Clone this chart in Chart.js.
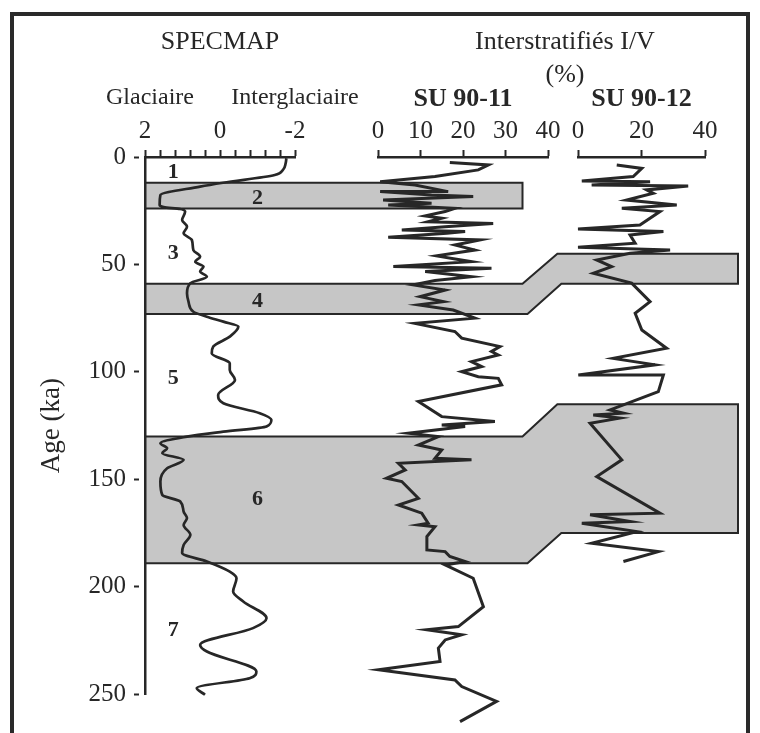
<!DOCTYPE html>
<html lang="fr">
<head>
<meta charset="UTF-8">
<title>SPECMAP - Interstratifiés I/V</title>
<script src="https://cdn.jsdelivr.net/npm/chart.js"></script>
<style>
    html, body { margin: 0; padding: 0; background: #fff; overflow: hidden; }
    .cadre { position: absolute; left: 10px; top: 12px; width: 740px; height: 760px; border: 4px solid #2a2a2a; box-sizing: border-box; }
    #graphe { position: absolute; left: 0; top: 0; }
</style>
</head>
<body>
<div class="cadre"></div>
<canvas id="graphe" width="760" height="733"></canvas>

<script>
    // SPECMAP (delta 18O normalise) : age (ka) / valeur
    const specmapAge = [0.6, 3, 6, 8.4, 12, 13.8, 17.7, 22.3, 23.3, 24.2, 25.4, 29.3, 32.4, 35.5, 38.6, 43.3, 46.4, 48.7, 51, 53.3,
        55.7, 58.7, 63.4, 67.3, 72, 74.3, 76.6, 78.9, 83.6, 88.2, 91.4, 96, 99.1, 103.7, 110.7, 114.6, 119.2, 122.3, 125.4, 127.8,
        130.1, 133.2, 135.5, 137.8, 140.9, 144.8, 151, 157.2, 160.3, 165, 168, 171.2, 175.8, 180.5, 184.3, 188.2, 192.9, 196, 202.2, 206.8,
        214.6, 219.2, 227, 230.1, 239.4, 242.5, 247.1, 250.2];
    const specmapVal = [-1.77, -1.75, -1.68, -1.46, -0.08, 0.53, 1.59, 1.61, 1.5, 1.06, 0.93, 1.01, 0.88, 0.97, 0.75, 0.71, 0.53, 0.66, 0.44, 0.53,
        0.35, 0.79, 0.88, 0.84, 0.71, 0.35, -0.09, -0.49, -0.26, 0.18, 0.22, -0.26, -0.26, -0.4, 0.05, -0.09, -1.06, -1.37, -1.24, -0.09,
        0.88, 1.59, 1.41, 1.54, 0.97, 1.41, 1.59, 1.54, 1.06, 0.97, 0.88, 0.97, 0.79, 0.97, 1.01, 0.35, -0.26, -0.44, -0.35, -0.62,
        -1.24, -0.88, 0.53, 0.35, -0.97, -0.79, 0.62, 0.4];

    // SU 90-11 : age (ka) / interstratifies I/V (%)
    const su11Age = [2.6, 3.7, 6, 9.1, 11.5, 13, 16.1, 16.1, 17.7, 18.4, 20, 21.5, 22.3, 23.9, 25.4, 27.4, 28.5, 30.1, 30.9, 32.4,
        34, 34.7, 35.5, 37.3, 38.6, 40.9, 43.3, 46, 48.7, 51, 51.8, 53.3, 55.7, 57.5, 59.5, 61.9, 65, 67.3, 68.8, 71.2,
        75, 77.4, 81.2, 84.3, 88.2, 90.5, 92.1, 95.2, 97.5, 99.9, 102.2, 103, 106, 113.8, 120.8, 123.1, 124.7, 125.4, 128.5, 130.1,
        134, 136.3, 140.2, 140.9, 142.5, 145.6, 149.5, 151, 158.8, 161.9, 165.7, 170.4, 171.2, 172, 176.6, 182.8, 183.6, 185.9, 188.2, 189.8,
        196, 209.2, 218.5, 220, 222.3, 224.7, 228.5, 234.7, 238.6, 243.3, 246.4, 253.3, 262.7];
    const su11Val = [16.9, 26, 23.6, 13.4, 0.5, 8.7, 16.5, 0.5, 12.6, 22.4, 1.2, 12.6, 2.4, 18.1, 15.8, 11.1, 15, 11.8, 27.1, 15.8,
        5.6, 20.5, 16.2, 2.4, 24, 18.1, 22.8, 13.8, 22, 3.6, 26.7, 11.1, 22, 13.4, 8.3, 15.8, 9.9, 15.4, 9.5, 17.7,
        22.8, 8.7, 18.1, 19.7, 28.7, 26.7, 28.3, 22, 24.4, 19.7, 23.6, 28.3, 29.1, 9.5, 15, 27.5, 15, 20.5, 7.1, 14.2,
        9.5, 15, 13.4, 22, 4.8, 6.4, 2, 5.6, 9.5, 4.8, 10.3, 11.8, 9.5, 13.4, 11.5, 11.5, 15.8, 16.9, 20.5, 15.8,
        22.4, 24.8, 18.9, 11.5, 19.7, 15.8, 14.2, 14.6, 0.1, 18.1, 19.7, 27.9, 19.3];

    // SU 90-12 : age (ka) / interstratifies I/V (%)
    const su12Age = [3.7, 5.3, 9.1, 11.2, 11.5, 13, 13.5, 15.3, 16.9, 20, 22.3, 23.9, 25.4, 31.6, 33.5, 34.7, 36.3, 40.1, 42, 43.3,
        44.8, 47.9, 51, 54.1, 58.7, 67.3, 72.7, 80.5, 89, 93.7, 96.7, 101.4, 101.4, 109.2, 115.3, 117.7, 119.2, 120, 121.5, 123.9,
        140.9, 148.7, 165.7, 166.5, 169.6, 170.4, 174.3, 179.7, 183.6, 188.2];
    const su12Val = [12.2, 20.1, 17.4, 1.2, 22.7, 4.3, 34.7, 21.6, 23.7, 15.3, 31.1, 13.8, 25.8, 19.5, 0, 26.9, 16.4, 18, 0, 29,
        16.4, 5.9, 10.6, 4.8, 16.9, 22.7, 18, 20.1, 27.9, 11.1, 24.3, 0.1, 26.9, 25.3, 14.3, 10.1, 14.3, 4.8, 13.2, 3.8,
        13.8, 5.9, 25.8, 3.8, 16.4, 1.2, 18.5, 4.3, 25.3, 14.3];

    // stades isotopiques : numero, age du libelle, position sur l'axe SPECMAP
    const stadeNoms = ['1', '2', '3', '4', '5', '6', '7'];
    const stadeAges = [7, 19, 44.7, 67.3, 102.8, 159.5, 220];
    const stadeX = [1.25, -1, 1.25, -1, 1.25, -1, 1.25];

    // bandes glaciaires (ka) : cote SPECMAP / SU 90-11 puis cote SU 90-12
    const bandeHaut11 = [12, 59, 130];
    const bandeBas11 = [24, 73, 189];
    const bandeHaut12 = [null, 45, 115];
    const bandeBas12 = [null, 59, 175];
    const bandeFin11 = 34;      // % SU 90-11 ou la bande s'arrete / bifurque
    const bandeDebut12 = -6.5;  // % SU 90-12 ou la bande reprend

    // graduations
    const specTicks = [2, 1.6, 1.2, 0.8, 0.4, 0, -0.4, -0.8, -1.2, -1.6, -2];
    const specLabels = [2, 0, -2];
    const su11Ticks = [0, 10, 20, 30, 40];
    const su12Ticks = [0, 20, 40];
    const ageTicks = [0, 50, 100, 150, 200, 250];

    const encre = '#272727';
    const serif = '"Liberation Serif", "Times New Roman", serif';

    function trace(ages, vals) {
        return ages.map((a, i) => ({ x: vals[i], y: a }));
    }
    function fixe(liste) {
        return s => { s.ticks = liste.map(v => ({ value: v })); };
    }
    function caleHaut(s) { s.height = 75; s.paddingLeft = 0; s.paddingRight = 0; }
    function caleGauche(s) { s.width = 115; s.paddingTop = 0; s.paddingBottom = 0; }

    const grilleHaut = { drawOnChartArea: false, tickLength: 7, tickWidth: 2, tickColor: encre };
    const bordure = { color: encre, width: 2.5, z: 1 };
    const policeTicks = { family: serif, size: 25 };

    function axeHaut(min, max, poids, liste, titre, inverse) {
        return {
            type: 'linear', axis: 'x', position: 'top', stack: 'haut', stackWeight: poids,
            min: min, max: max, reverse: !!inverse,
            afterBuildTicks: fixe(liste), afterFit: caleHaut,
            grid: grilleHaut, border: bordure,
            ticks: { color: encre, font: policeTicks, padding: 4, autoSkip: false, maxRotation: 0 },
            title: { display: !!titre, text: titre || '', color: encre, font: { family: serif, size: 26, weight: 'bold' }, padding: { top: 2, bottom: 0 } }
        };
    }
    function vide(poids) {
        return { type: 'linear', axis: 'x', position: 'top', stack: 'haut', stackWeight: poids, display: false, afterFit: caleHaut };
    }

    const specAxe = axeHaut(-2, 2, 150, specTicks, null, true);
    specAxe.ticks.callback = v => specLabels.some(l => Math.abs(l - v) < 1e-6) ? String(Math.round(v)) : '';

    const bandes = {
        id: 'bandes',
        beforeDatasetsDraw(chart) {
            const { ctx, chartArea, scales } = chart;
            const y = scales.yd, x11 = scales.x11, x12 = scales.x12;
            const g = chartArea.left, d = chartArea.right;
            const xa = x11.getPixelForValue(bandeFin11);
            const xb = x12.getPixelForValue(bandeDebut12);
            ctx.save();
            ctx.fillStyle = '#c6c6c6';
            ctx.strokeStyle = encre;
            ctx.lineWidth = 2;
            bandeHaut11.forEach((h, i) => {
                const h1 = y.getPixelForValue(h), b1 = y.getPixelForValue(bandeBas11[i]);
                let pts;
                if (bandeHaut12[i] === null) {
                    pts = [[g, h1], [xa, h1], [xa, b1], [g, b1]];
                } else {
                    const h2 = y.getPixelForValue(bandeHaut12[i]), b2 = y.getPixelForValue(bandeBas12[i]);
                    pts = [[g, h1], [xa, h1], [xb, h2], [d, h2], [d, b2], [xb + 4, b2], [xa + 5, b1], [g, b1]];
                }
                ctx.beginPath();
                pts.forEach((p, k) => k ? ctx.lineTo(p[0], p[1]) : ctx.moveTo(p[0], p[1]));
                ctx.closePath();
                ctx.fill();
                ctx.stroke();
            });
            ctx.restore();
        },
        afterDraw(chart) {
            const { ctx, scales } = chart;
            const y = scales.yd, xs = scales.xSpec, x11 = scales.x11, x12 = scales.x12;
            ctx.save();
            ctx.fillStyle = encre;
            ctx.textAlign = 'center';
            ctx.textBaseline = 'middle';
            ctx.font = 'bold 22px ' + serif;
            stadeNoms.forEach((n, i) => {
                ctx.fillText(n, xs.getPixelForValue(stadeX[i]), y.getPixelForValue(stadeAges[i]));
            });
            ctx.font = '26px ' + serif;
            ctx.fillText('SPECMAP', (xs.left + xs.right) / 2, 42);
            const milieu = (x11.right + x12.left) / 2 + 2;
            ctx.fillText('Interstratifiés I/V', milieu, 42);
            ctx.fillText('(%)', milieu, 75);
            ctx.font = '24px ' + serif;
            ctx.fillText('Glaciaire', xs.getPixelForValue(2) + 5, 98);
            ctx.fillText('Interglaciaire', xs.getPixelForValue(-2), 98);
            ctx.restore();
        }
    };

    // les boites en haut et a gauche sont placees dans l'ordre inverse de declaration
    new Chart(document.getElementById('graphe'), {
        type: 'line',
        data: {
            datasets: [
                { label: 'SPECMAP', data: trace(specmapAge, specmapVal), xAxisID: 'xSpec', yAxisID: 'yd',
                  borderColor: encre, borderWidth: 2.7, pointRadius: 0, cubicInterpolationMode: 'monotone', clip: false },
                { label: 'SU 90-11', data: trace(su11Age, su11Val), xAxisID: 'x11', yAxisID: 'yd',
                  borderColor: encre, borderWidth: 3, pointRadius: 0, tension: 0, clip: false },
                { label: 'SU 90-12', data: trace(su12Age, su12Val), xAxisID: 'x12', yAxisID: 'yd',
                  borderColor: encre, borderWidth: 3, pointRadius: 0, tension: 0, clip: false }
            ]
        },
        options: {
            responsive: false,
            animation: false,
            indexAxis: 'y',
            layout: { padding: { left: 30, top: 82, right: 22, bottom: 0 } },
            plugins: { legend: { display: false }, tooltip: { enabled: false } },
            scales: {
                yd: { type: 'linear', axis: 'y', position: 'left', display: false, reverse: true, min: 0, max: 268 },
                yBas: { type: 'linear', axis: 'y', position: 'left', stack: 'age', stackWeight: 18, display: false, min: 250, max: 268 },
                yAge: {
                    type: 'linear', axis: 'y', position: 'left', stack: 'age', stackWeight: 250,
                    reverse: true, min: 0, max: 250,
                    afterBuildTicks: fixe(ageTicks), afterFit: caleGauche,
                    grid: { drawOnChartArea: false, tickLength: 11, tickWidth: 2, tickColor: encre, tickBorderDash: [5, 6] },
                    border: bordure,
                    ticks: { color: encre, font: policeTicks, padding: 8, autoSkip: false },
                    title: { display: true, text: 'Age (ka)', color: encre, font: { family: serif, size: 27 }, padding: { top: 6, bottom: 0 } }
                },
                g3: vide(33),
                x12: axeHaut(0, 40, 127, su12Ticks, 'SU 90-12'),
                g2: vide(30),
                x11: axeHaut(0, 40, 170, su11Ticks, 'SU 90-11'),
                g1: vide(83),
                xSpec: specAxe
            }
        },
        plugins: [bandes]
    });
</script>
</body>
</html>
